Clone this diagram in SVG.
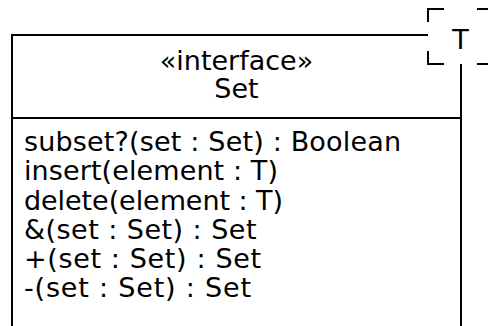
<svg xmlns="http://www.w3.org/2000/svg" width="488" height="326" viewBox="0 0 488 326">
<style>
.ln{fill:none;stroke:#000;stroke-width:2}
.t{font-family:"DejaVu Sans","Liberation Sans",sans-serif;font-size:27px;fill:#000}
.c{text-anchor:middle}
</style>
<rect width="488" height="326" fill="#fff"/>
<g id="node-set">
<rect class="ln" x="12" y="35" width="449" height="310" fill="#fff"/>
<line class="ln" x1="12" y1="118" x2="461" y2="118"/>
<text class="t c" x="236.5" y="70">«interface»</text>
<text class="t c" x="236.5" y="98">Set</text>
<text class="t" x="24" y="151" textLength="377" lengthAdjust="spacing">subset?(set : Set) : Boolean</text>
<text class="t" x="24" y="180" textLength="254" lengthAdjust="spacing">insert(element : T)</text>
<text class="t" x="24" y="210" textLength="259" lengthAdjust="spacing">delete(element : T)</text>
<text class="t" x="24" y="239" textLength="232.5" lengthAdjust="spacing">&amp;(set : Set) : Set</text>
<text class="t" x="24" y="268" textLength="237" lengthAdjust="spacing">+(set : Set) : Set</text>
<text class="t" x="24" y="297" textLength="227" lengthAdjust="spacing">-(set : Set) : Set</text>
</g>
<g id="template-param">
<rect x="428" y="9" width="70" height="55" fill="#fff"/>
<path class="ln" d="M428,22V9H444M428,51V64H444M477,9H488M477,64H488"/>
<text class="t c" x="460.5" y="49">T</text>
</g>
<g id="connectors"></g>
</svg>
